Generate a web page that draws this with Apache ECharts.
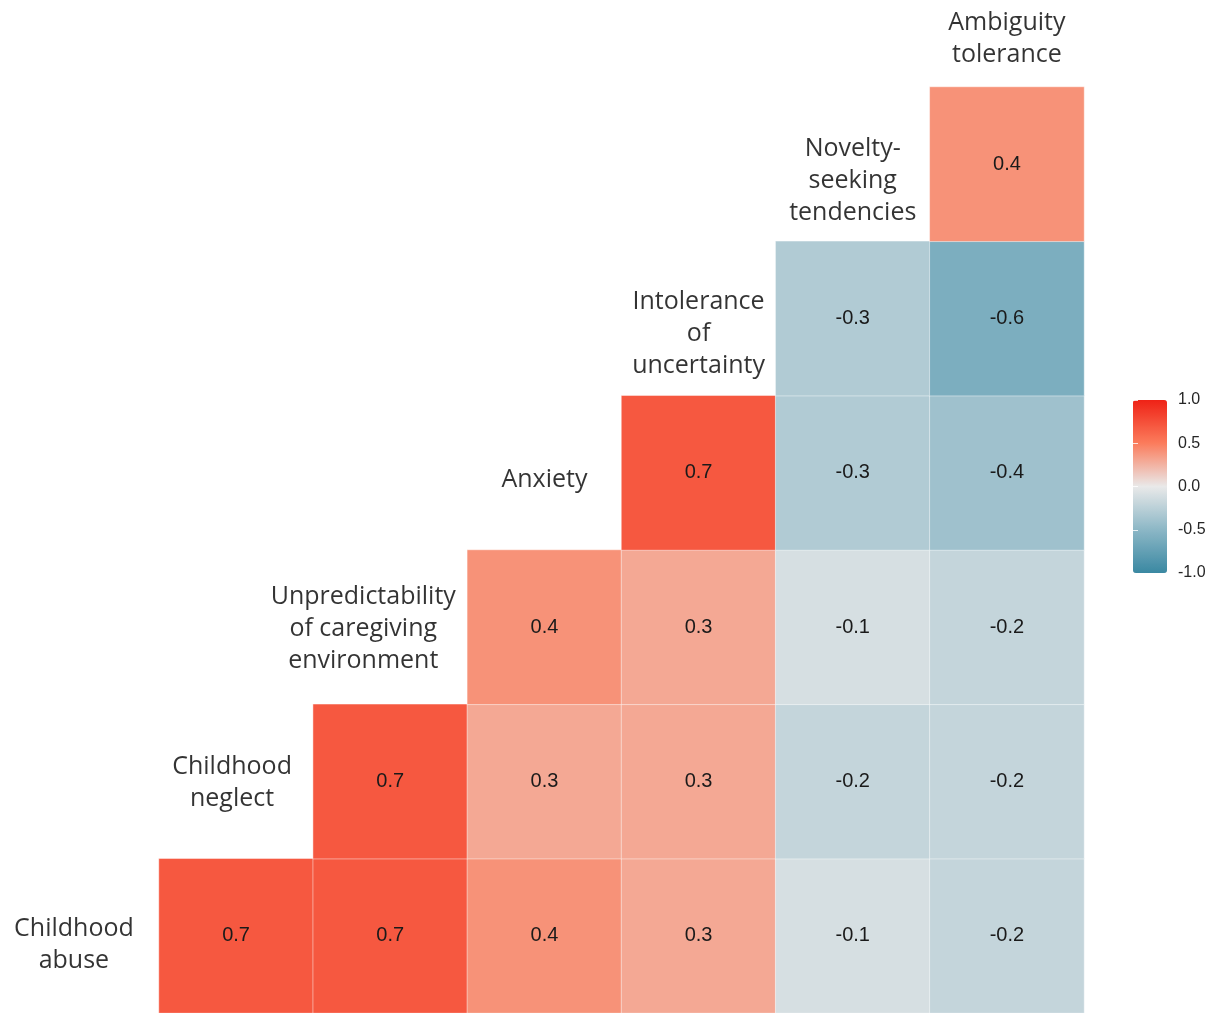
<!DOCTYPE html>
<html>
<head>
<meta charset="utf-8">
<title>Correlation matrix</title>
<script src="https://cdn.jsdelivr.net/npm/echarts@6/dist/echarts.min.js"></script>
<style>
  html, body { margin: 0; padding: 0; background: #ffffff; }
  #chart { width: 1217px; height: 1013px; }
</style>
</head>
<body>
<div id="chart"></div>
<script>
// Variables, in matrix order (first = bottom row / left column)
const variables = [
  'Childhood abuse',
  'Childhood neglect',
  'Unpredictability of caregiving environment',
  'Anxiety',
  'Intolerance of uncertainty',
  'Novelty-seeking tendencies',
  'Ambiguity tolerance'
];

// Wrapped versions of the names as they appear on the diagonal
const variableLabels = [
  'Childhood\nabuse',
  'Childhood\nneglect',
  'Unpredictability\nof caregiving\nenvironment',
  'Anxiety',
  'Intolerance\nof\nuncertainty',
  'Novelty-\nseeking\ntendencies',
  'Ambiguity\ntolerance'
];

// Correlations of each variable with every variable that follows it
const corrAbuse        = [0.7, 0.7, 0.4, 0.3, -0.1, -0.2];
const corrNeglect      = [0.7, 0.3, 0.3, -0.2, -0.2];
const corrUnpredict    = [0.4, 0.3, -0.1, -0.2];
const corrAnxiety      = [0.7, -0.3, -0.4];
const corrIntolerance  = [-0.3, -0.6];
const corrNovelty      = [0.4];

const corrRows = [corrAbuse, corrNeglect, corrUnpredict, corrAnxiety, corrIntolerance, corrNovelty];

// Colour-bar tick values
const legendTicks = [-1.0, -0.5, 0.0, 0.5, 1.0];

// Upper triangle cells: [column variable, row variable, r]
const cells = [];
corrRows.forEach((row, i) => {
  row.forEach((v, j) => {
    cells.push([i + 1 + j, i, v]);
  });
});

// Nudges for the diagonal name labels (style only)
const labelOffsets = [
  [-8, 9], [-4, 1], [-27, 2], [0, 7], [0, 15], [0, 17], [0, 29]
];

const nameData = variableLabels.map((txt, k) => ({
  value: [k, k],
  name: txt,
  label: { offset: labelOffsets[k] }
}));

const chart = echarts.init(document.getElementById('chart'), null, { renderer: 'canvas' });

const option = {
  backgroundColor: '#ffffff',
  animation: false,
  grid: [
    { left: 4.83, right: 133, top: -67.33, bottom: 0, containLabel: false, outerBoundsMode: 'none' },
    { left: 1133, top: 400, width: 34, height: 173, outerBoundsMode: 'none' }
  ],
  xAxis: [
    {
      type: 'category', gridIndex: 0, data: variables,
      show: false, boundaryGap: true
    },
    { type: 'value', gridIndex: 1, show: false, min: 0, max: 1 }
  ],
  yAxis: [
    {
      type: 'category', gridIndex: 0, data: variables,
      show: false, boundaryGap: true
    },
    {
      type: 'value', gridIndex: 1, min: -1, max: 1, interval: 0.5,
      position: 'right', z: 10,
      axisLine: { show: false },
      splitLine: { show: false },
      axisTick: { show: true, inside: true, length: 5, lineStyle: { color: 'rgba(255,255,255,0.8)', width: 1 } },
      axisLabel: {
        margin: 11, fontSize: 16, color: '#262626',
        fontFamily: 'Liberation Sans, Arial, sans-serif',
        formatter: v => v.toFixed(1)
      }
    },
    {
      type: 'value', gridIndex: 1, min: -1, max: 1, interval: 0.5,
      position: 'left', z: 10,
      axisLine: { show: false },
      splitLine: { show: false },
      axisTick: { show: true, inside: true, length: 5, lineStyle: { color: 'rgba(255,255,255,0.8)', width: 1 } },
      axisLabel: { show: false }
    }
  ],
  visualMap: {
    type: 'continuous',
    seriesIndex: 0,
    min: -1,
    max: 1,
    calculable: false,
    orient: 'vertical',
    left: 1133,
    top: 400,
    padding: 0,
    itemWidth: 34,
    itemHeight: 173,
    showLabel: false,
    text: null,
    inRange: {
      color: ['#3a88a2', '#8cb7c6', '#e9e9e9', '#fb7c5c', '#ef2216']
    }
  },
  series: [
    {
      type: 'heatmap',
      xAxisIndex: 0,
      yAxisIndex: 0,
      data: cells,
      itemStyle: { borderColor: 'rgba(255,255,255,0.45)', borderWidth: 1 },
      label: {
        show: true,
        fontSize: 20,
        color: '#1a1a1a',
        fontFamily: 'Liberation Sans, Arial, sans-serif',
        formatter: p => p.value[2].toFixed(1)
      },
      emphasis: { disabled: true }
    },
    {
      type: 'scatter',
      xAxisIndex: 0,
      yAxisIndex: 0,
      symbolSize: 0,
      data: nameData,
      label: {
        show: true,
        position: 'inside',
        formatter: p => p.name,
        fontSize: 25,
        lineHeight: 32,
        align: 'center',
        color: '#000000',
        fontFamily: '"Open Sans", Lato, sans-serif'
      },
      emphasis: { disabled: true }
    }
  ]
};

chart.setOption(option);
</script>
</body>
</html>
